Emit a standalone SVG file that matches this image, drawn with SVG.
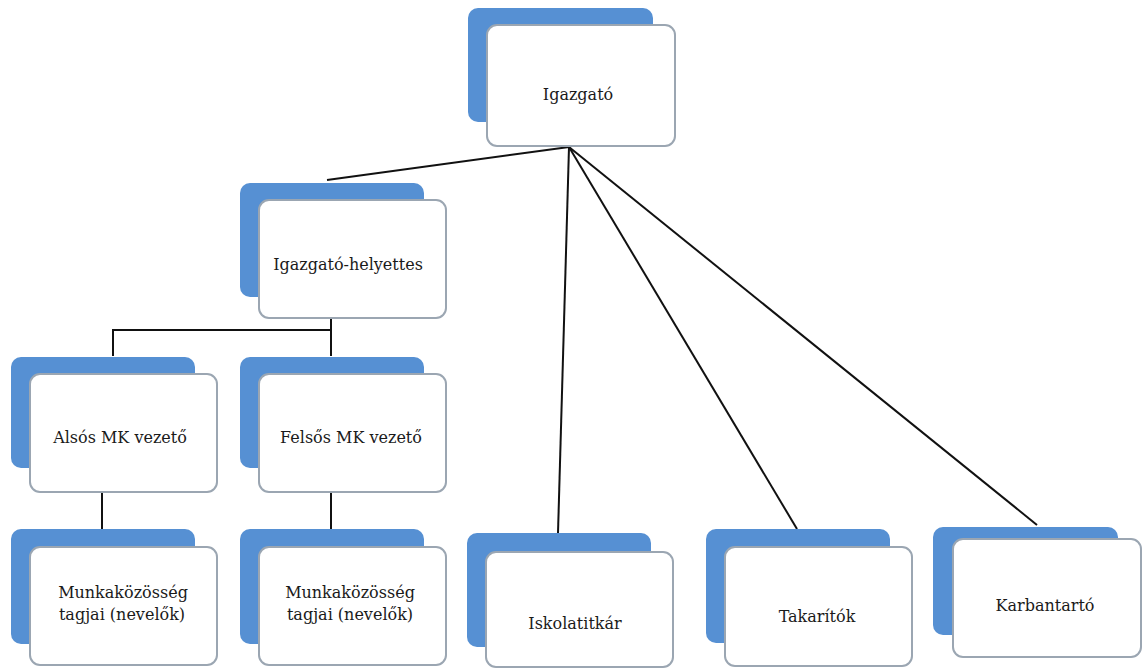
<svg xmlns="http://www.w3.org/2000/svg" width="1144" height="668" viewBox="0 0 1144 668">
<style>
.back{fill:#5690d3;}
.front{fill:#ffffff;stroke:#9ba6b2;stroke-width:2;}
.lbl{font-family:"DejaVu Serif",serif;font-size:16px;fill:#1a1a1a;text-anchor:middle;}
.conn{stroke:#111;stroke-width:2;fill:none;}
</style>
<rect width="1144" height="668" fill="#ffffff"/>
<g id="connectors">
<line class="conn" x1="569" y1="147" x2="327" y2="180"/>
<line class="conn" x1="569" y1="147" x2="558" y2="533"/>
<line class="conn" x1="569" y1="147" x2="797" y2="529"/>
<line class="conn" x1="569" y1="147" x2="1037" y2="525"/>
<line class="conn" x1="331" y1="318" x2="331" y2="356"/>
<polyline class="conn" points="113,356 113,330 331,330"/>
<line class="conn" x1="102" y1="492" x2="102" y2="530"/>
<line class="conn" x1="331" y1="492" x2="331" y2="530"/>
</g>
<g id="igazgato">
<rect class="back" x="468" y="8" width="185" height="114" rx="10"/>
<rect class="front" x="487" y="25" width="188" height="121" rx="10"/>
<text class="lbl" x="578" y="100">Igazgató</text>
</g>
<g id="helyettes">
<rect class="back" x="240" y="183" width="184" height="114" rx="10"/>
<rect class="front" x="259" y="200" width="187" height="118" rx="10"/>
<text class="lbl" x="348" y="270">Igazgató-helyettes</text>
</g>
<g id="also">
<rect class="back" x="11" y="357" width="184" height="111" rx="10"/>
<rect class="front" x="30" y="374" width="187" height="118" rx="10"/>
<text class="lbl" x="120" y="443">Alsós MK vezető</text>
</g>
<g id="felso">
<rect class="back" x="240" y="357" width="184" height="111" rx="10"/>
<rect class="front" x="259" y="374" width="187" height="118" rx="10"/>
<text class="lbl" x="351" y="443">Felsős MK vezető</text>
</g>
<g id="munka-also">
<rect class="back" x="11" y="529" width="184" height="115" rx="10"/>
<rect class="front" x="30" y="547" width="187" height="118" rx="10"/>
<text class="lbl" x="123" y="598">Munkaközösség</text>
<text class="lbl" x="122" y="620">tagjai (nevelők)</text>
</g>
<g id="munka-felso">
<rect class="back" x="240" y="529" width="184" height="115" rx="10"/>
<rect class="front" x="259" y="547" width="187" height="118" rx="10"/>
<text class="lbl" x="350" y="598">Munkaközösség</text>
<text class="lbl" x="350" y="620">tagjai (nevelők)</text>
</g>
<g id="iskolatitkar">
<rect class="back" x="467" y="533" width="184" height="114" rx="10"/>
<rect class="front" x="486" y="552" width="187" height="115" rx="10"/>
<text class="lbl" x="575" y="629">Iskolatitkár</text>
</g>
<g id="takaritok">
<rect class="back" x="706" y="529" width="184" height="114" rx="10"/>
<rect class="front" x="725" y="547" width="187" height="119" rx="10"/>
<text class="lbl" x="817" y="622">Takarítók</text>
</g>
<g id="karbantarto">
<rect class="back" x="933" y="527" width="185" height="108" rx="10"/>
<rect class="front" x="953" y="539" width="188" height="118" rx="10"/>
<text class="lbl" x="1045" y="611">Karbantartó</text>
</g>
</svg>
